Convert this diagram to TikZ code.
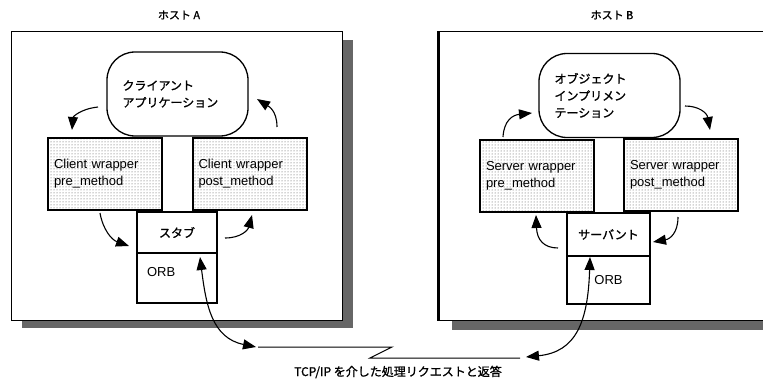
\documentclass[tikz,border=0pt]{standalone}
\usepackage{fontspec}
\setmainfont{Liberation Sans}
\newfontfamily\jp{Noto Sans CJK JP}[FakeBold=1.2]
\usetikzlibrary{arrows.meta,patterns}

\begin{document}
\begin{tikzpicture}[x=1pt,y=-1pt,font=\fontsize{12}{17}\selectfont,
  host/.style={draw,fill=white,line width=1pt,minimum width=#1,minimum height=288pt,inner sep=0pt},
  dropsh/.style={fill=black!60},
  obj/.style={draw,fill=white,line width=1.3pt,rounded corners=28pt,minimum width=141pt,minimum height=84pt,text width=110pt,align=left,font=\jp\fontsize{12}{17}\selectfont},
  wrap/.style={draw,line width=1.6pt,pattern=dots,pattern color=black!70,minimum width=114pt,minimum height=72pt,text width=102pt,inner xsep=6pt,align=left,font=\fontsize{13}{17}\selectfont},
  orbbox/.style={draw,fill=white,line width=1.4pt,minimum width=#1,inner sep=2pt},
  flow/.style={line width=1.1pt,-{Triangle[length=13pt,width=10pt]}},
  both/.style={line width=1.1pt,{Triangle[length=13pt,width=10pt]}-{Triangle[length=13pt,width=10pt]}}]
  \useasboundingbox (0,0) rectangle (763,385);
  \clip (0,0) rectangle (763,385);
  % hosts
  \fill[dropsh] (22,40) rectangle (353,328);
  \fill[dropsh] (452,40) rectangle (775,330);
  \node[host=331pt] (hostA) at (176.5,176){};
  \node[host=336pt] (hostB) at (607,176){};
  \draw[line width=2.5pt] (hostB.north west) -- (hostB.south west);
  \node[font=\jp\fontsize{11}{13}\selectfont] (tA) at (179,15){ホスト A};
  \node[font=\jp\fontsize{11}{13}\selectfont] (tB) at (612,15){ホスト B};
  % client side
  \node[obj] (appA) at (177.5,94){クライアント\\アプリケーション};
  \node[wrap] (cpre) at (105,174){Client wrapper\\pre\_method};
  \node[wrap,line width=2pt] (cpost) at (249.5,174){Client wrapper\\post\_method};
  \node[orbbox=80pt,minimum height=41pt,font=\jp\fontsize{12}{14}\selectfont] (stub) at (177,232.5){スタブ};
  \node[orbbox=80pt,minimum height=50pt,text width=60pt,align=left,text depth=12pt,font=\fontsize{13}{15}\selectfont] (orbA) at (177,278){ORB};
  % server side
  \node[obj] (appB) at (609.5,95.5){オブジェクト\\インプリメン\\テーション};
  \node[wrap,line width=2pt] (spre) at (537,176){Server wrapper\\pre\_method};
  \node[wrap] (spost) at (681,175){Server wrapper\\post\_method};
  \node[orbbox=83pt,line width=1.1pt,minimum height=43pt,font=\jp\fontsize{12}{14}\selectfont] (servant) at (608.5,234.5){サーバント};
  \node[orbbox=83pt,line width=1.1pt,minimum height=48pt,font=\fontsize{13}{15}\selectfont] (orbB) at (608.5,280){ORB};
  % arrow ends
  \coordinate (a1) at (98,107);   \coordinate (a1e) at (72,130);
  \coordinate (a2) at (277,127);  \coordinate (a2e) at (257,99);
  \coordinate (a3) at (100,213);  \coordinate (a3e) at (129,246);
  \coordinate (a4) at (225,238);  \coordinate (a4e) at (252,215);
  \coordinate (b1) at (503,137);  \coordinate (b1e) at (532,113);
  \coordinate (b2) at (685,106);  \coordinate (b2e) at (710,130);
  \coordinate (b3) at (678,217);  \coordinate (b3e) at (653,242);
  \coordinate (b4) at (558,248);  \coordinate (b4e) at (536,215);
  \coordinate (oaU) at (200,257); \coordinate (oaD) at (256,347);
  \coordinate (obU) at (590,257); \coordinate (obD) at (526,357);
  \draw[flow] (a1) .. controls (80,109) and (73,117) .. (a1e);
  \draw[flow] (a2) .. controls (277,110) and (268,106) .. (a2e);
  \draw[flow] (a3) .. controls (103,230) and (112,240) .. (a3e);
  \draw[flow] (a4) .. controls (241,238) and (248,230) .. (a4e);
  \draw[flow] (b1) .. controls (504,120) and (513,115) .. (b1e);
  \draw[flow] (b2) .. controls (699,106) and (707,113) .. (b2e);
  \draw[flow] (b3) .. controls (678,233) and (670,239) .. (b3e);
  \draw[flow] (b4) .. controls (544,248) and (537,240) .. (b4e);
  % network link
  \coordinate (tcpL) at (258,347); \coordinate (zigA) at (392,347);
  \coordinate (zigB) at (370,358); \coordinate (tcpR) at (520,358);
  \draw[line width=1pt] (tcpL) -- (zigA) -- (zigB) -- (tcpR);
  \draw[both] (oaU) .. controls (206,305) and (212,338) .. (oaD);
  \draw[both] (obU) .. controls (588,322) and (576,352) .. (obD);
  \node[font=\jp\fontsize{12}{14}\selectfont] (tcp) at (398,372){TCP/IP を介した処理リクエストと返答};
\end{tikzpicture}
\end{document}
